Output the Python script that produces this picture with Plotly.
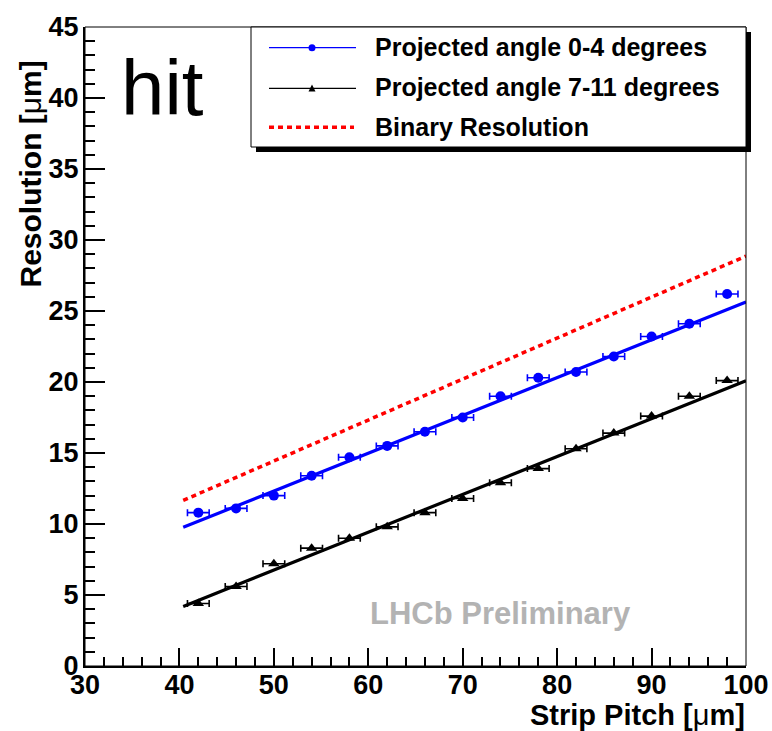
import numpy as np
import plotly.graph_objects as go

# Strip pitch bins (centres) and measured hit resolutions
pitch = [42, 46, 50, 54, 58, 62, 66, 70, 74, 78, 82, 86, 90, 94, 98]
res_angle_0_4 = [10.8, 11.1, 12.0, 13.4, 14.7, 15.5, 16.5, 17.5, 19.0, 20.3,
                 20.7, 21.8, 23.2, 24.1, 26.2]
res_angle_7_11 = [4.4, 5.6, 7.2, 8.3, 9.0, 9.8, 10.8, 11.8, 12.9, 13.9,
                  15.3, 16.4, 17.6, 19.0, 20.1]
pitch_halfwidth = 1.15  # horizontal error bar (bin RMS)

# Linear fit parameters (slope, intercept) and fit range
fit_0_4 = (0.2663, -0.995)
fit_7_11 = (0.2665, -6.57)
fit_range = (40.4, 100.0)

x_ticks = [30, 40, 50, 60, 70, 80, 90, 100]
y_ticks = [0, 5, 10, 15, 20, 25, 30, 35, 40, 45]

legend_labels = ["Projected angle 0-4 degrees",
                 "Projected angle 7-11 degrees",
                 "Binary Resolution"]

BLUE = "#0000ff"
BLACK = "#000000"
RED = "#ff0000"
FONT = "Liberation Sans, Arial, Helvetica, sans-serif"

# Figure geometry (pixels)
W, H = 772, 731
ML, MR, MT, MB = 85, 26, 27, 65
PW, PH = W - ML - MR, H - MT - MB


def px(x):
    return (x - ML) / PW


def py(y):
    return (H - MB - y) / PH


xf = np.linspace(fit_range[0], fit_range[1], 50)

fig = go.Figure()

# Binary resolution: pitch / sqrt(12)
fig.add_trace(go.Scatter(
    x=xf, y=xf / np.sqrt(12), mode="lines",
    line=dict(color=RED, width=3.5, dash="5px,4px"), hoverinfo="skip"))

# Fit lines
for (a, b), col in ((fit_0_4, BLUE), (fit_7_11, BLACK)):
    fig.add_trace(go.Scatter(
        x=xf, y=a * xf + b, mode="lines",
        line=dict(color=col, width=3.2), hoverinfo="skip"))

# Measured points with horizontal error bars
fig.add_trace(go.Scatter(
    x=pitch, y=res_angle_0_4, mode="markers",
    marker=dict(symbol="circle", size=10, color=BLUE),
    error_x=dict(type="constant", value=pitch_halfwidth, color=BLUE,
                 thickness=1.6, width=3.5)))
fig.add_trace(go.Scatter(
    x=pitch, y=res_angle_7_11, mode="markers",
    marker=dict(symbol="triangle-up", size=10, color=BLACK),
    error_x=dict(type="constant", value=pitch_halfwidth, color=BLACK,
                 thickness=1.6, width=3.5)))

axis_common = dict(
    showgrid=False, zeroline=False, showline=True, linecolor="black",
    linewidth=2, ticks="inside", tickcolor="black", tickwidth=2,
    automargin=False,
    tickfont=dict(family=FONT, size=27, color="black", weight="bold"),
)

fig.update_xaxes(range=[30, 100], tickvals=x_ticks, ticklen=18,
                 minor=dict(dtick=2, ticklen=9, ticks="inside",
                            tickcolor="black", tickwidth=2),
                 ticklabelstandoff=-6, **axis_common)
fig.update_yaxes(range=[0, 45], tickvals=y_ticks, ticklen=20,
                 minor=dict(dtick=1, ticklen=10, ticks="inside",
                            tickcolor="black", tickwidth=2),
                 ticklabelstandoff=-1, **axis_common)

shapes = [
    # frame
    dict(type="rect", xref="paper", yref="paper", x0=0, x1=1, y0=0, y1=1,
         line=dict(color="black", width=1)),
    # legend shadow and box
    dict(type="rect", xref="paper", yref="paper",
         x0=px(256), x1=px(751), y0=py(152), y1=py(32),
         fillcolor="black", line=dict(width=0)),
    dict(type="rect", xref="paper", yref="paper",
         x0=px(251), x1=px(746), y0=py(147), y1=py(27),
         fillcolor="white", line=dict(color="black", width=1)),
    # legend samples
    dict(type="line", xref="paper", yref="paper",
         x0=px(269), x1=px(356), y0=py(47.7), y1=py(47.7),
         line=dict(color=BLUE, width=1.3)),
    dict(type="circle", xref="paper", yref="paper",
         x0=px(308.5), x1=px(315.5), y0=py(51.2), y1=py(44.2),
         fillcolor=BLUE, line=dict(color=BLUE, width=0)),
    dict(type="line", xref="paper", yref="paper",
         x0=px(269), x1=px(356), y0=py(88.3), y1=py(88.3),
         line=dict(color=BLACK, width=1.3)),
    dict(type="path", xref="paper", yref="paper",
         path=f"M {px(308.5)} {py(91.5)} L {px(315.5)} {py(91.5)} "
              f"L {px(312)} {py(84.5)} Z",
         fillcolor=BLACK, line=dict(color=BLACK, width=0)),
    dict(type="line", xref="paper", yref="paper",
         x0=px(269), x1=px(354), y0=py(127.3), y1=py(127.3),
         line=dict(color=RED, width=3.5, dash="5px,4px")),
]

annotations = [
    dict(text=t, xref="paper", yref="paper", x=px(373), y=py(yc),
         xanchor="left", yanchor="middle", showarrow=False,
         font=dict(family=FONT, size=25, color="black", weight="bold"))
    for t, yc in zip(legend_labels, [47, 87, 127])
]
annotations += [
    dict(text="hit", xref="paper", yref="paper", x=px(119), y=py(88),
         xanchor="left", yanchor="middle", showarrow=False,
         font=dict(family=FONT, size=78, color="black")),
    dict(text="LHCb Preliminary", xref="paper", yref="paper",
         x=px(368), y=py(613), xanchor="left", yanchor="middle",
         showarrow=False,
         font=dict(family=FONT, size=31, color="#b3b3b3", weight="bold")),
    dict(text="Strip Pitch [<span style='font-weight:normal'>μ</span>m]",
         xref="paper", yref="paper", x=px(747), y=py(715),
         xanchor="right", yanchor="middle", showarrow=False,
         font=dict(family=FONT, size=29, color="black", weight="bold")),
    dict(text="Resolution [<span style='font-weight:normal'>μ</span>m]",
         xref="paper", yref="paper", x=px(30), y=py(59),
         xanchor="center", yanchor="top", textangle=-90, showarrow=False,
         font=dict(family=FONT, size=30, color="black", weight="bold")),
]

fig.update_layout(
    width=W, height=H, autosize=False,
    margin=dict(l=ML, r=MR, t=MT, b=MB, pad=0, autoexpand=False),
    paper_bgcolor="white", plot_bgcolor="white",
    showlegend=False, shapes=shapes, annotations=annotations,
)

fig.write_html("out.html")
